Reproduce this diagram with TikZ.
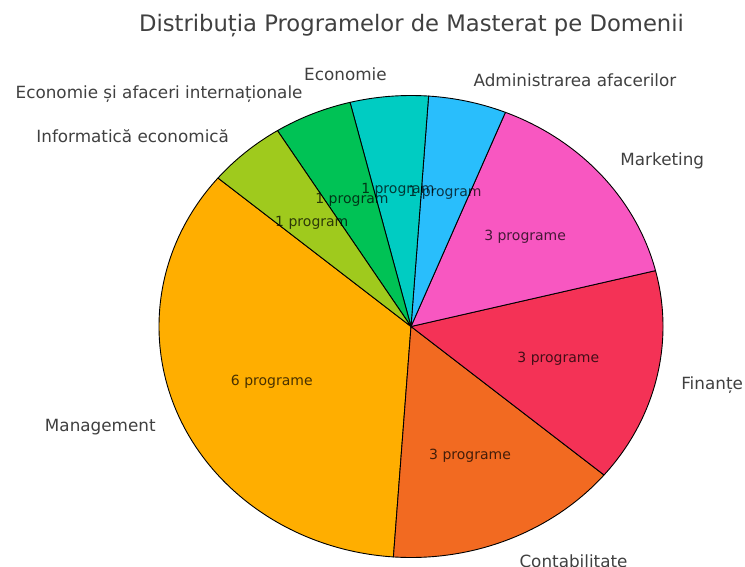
\documentclass[tikz,border=0pt]{standalone}
\usepackage{fontspec}
\setmainfont{DejaVu Sans}
\usetikzlibrary{calc}
\definecolor{cMan}{HTML}{FFAE00}
\definecolor{cCont}{HTML}{F26A21}
\definecolor{cFin}{HTML}{F43256}
\definecolor{cMark}{HTML}{F857C1}
\definecolor{cAdm}{HTML}{29BEFC}
\definecolor{cEco}{HTML}{00CCC2}
\definecolor{cEsa}{HTML}{00C255}
\definecolor{cInf}{HTML}{9FCA1D}
\definecolor{txtgray}{HTML}{404040}
\newcommand\pieWedge[3]{%
  \filldraw[wedge, fill=#1] (C) -- ($(C)+(#2:252pt and 231pt)$)
    arc[start angle=#2, end angle=#3, x radius=252pt, y radius=231pt] -- cycle;}
\begin{document}
\begin{tikzpicture}[x=1pt,y=1pt,
  wedge/.style={draw=black, line width=0.9pt, line join=round},
  lbl/.style={text=txtgray, font=\fontsize{16.8}{20}\selectfont, inner sep=0pt, yshift=-1.2pt},
  pct/.style={text=black, text opacity=0.72, font=\fontsize{14}{17}\selectfont, inner sep=0pt, yshift=-1.2pt},
  titlestyle/.style={text=txtgray, font=\fontsize{22.7}{27}\selectfont, inner sep=0pt}]
\useasboundingbox (0,0) rectangle (745,566);
\coordinate (C) at (411,239.5);
% wedges
\pieWedge{cMan}{140}{266}
\pieWedge{cCont}{266}{320}
\pieWedge{cFin}{320}{374}
\pieWedge{cMark}{14}{68}
\pieWedge{cAdm}{68}{86}
\pieWedge{cEco}{86}{104}
\pieWedge{cEsa}{104}{122}
\pieWedge{cInf}{122}{140}
% outer labels
\node[lbl, anchor=east] (lMan) at ($(C)+(203:277.2pt and 254pt)$) {Management};
\node[lbl, anchor=west] (lCont) at ($(C)+(293:277.2pt and 254pt)$) {Contabilitate};
\node[lbl, anchor=west] (lFin) at ($(C)+(347:277.2pt and 254pt)$) {Finanțe};
\node[lbl, anchor=west] (lMark) at ($(C)+(41:277.2pt and 254pt)$) {Marketing};
\node[lbl, anchor=west] (lAdm) at ($(C)+(77:277.2pt and 254pt)$) {Administrarea afacerilor};
\node[lbl, anchor=east] (lEco) at ($(C)+(95:277.2pt and 254pt)$) {Economie};
\node[lbl, anchor=east] (lEsa) at ($(C)+(113:277.2pt and 254pt)$) {Economie și afaceri internaționale};
\node[lbl, anchor=east] (lInf) at ($(C)+(131:277.2pt and 254pt)$) {Informatică economică};
% inner labels
\node[pct] (pMan) at ($(C)+(203:151.2pt and 138.6pt)$) {6 programe};
\node[pct] (pCont) at ($(C)+(293:151.2pt and 138.6pt)$) {3 programe};
\node[pct] (pFin) at ($(C)+(347:151.2pt and 138.6pt)$) {3 programe};
\node[pct] (pMark) at ($(C)+(41:151.2pt and 138.6pt)$) {3 programe};
\node[pct] (pAdm) at ($(C)+(77:151.2pt and 138.6pt)$) {1 program};
\node[pct] (pEco) at ($(C)+(95:151.2pt and 138.6pt)$) {1 program};
\node[pct] (pEsa) at ($(C)+(113:151.2pt and 138.6pt)$) {1 program};
\node[pct] (pInf) at ($(C)+(131:151.2pt and 138.6pt)$) {1 program};
% title
\node[titlestyle, anchor=base] (title) at (411.5,534.3) {Distribuția Programelor de Masterat pe Domenii};
\end{tikzpicture}
\end{document}
